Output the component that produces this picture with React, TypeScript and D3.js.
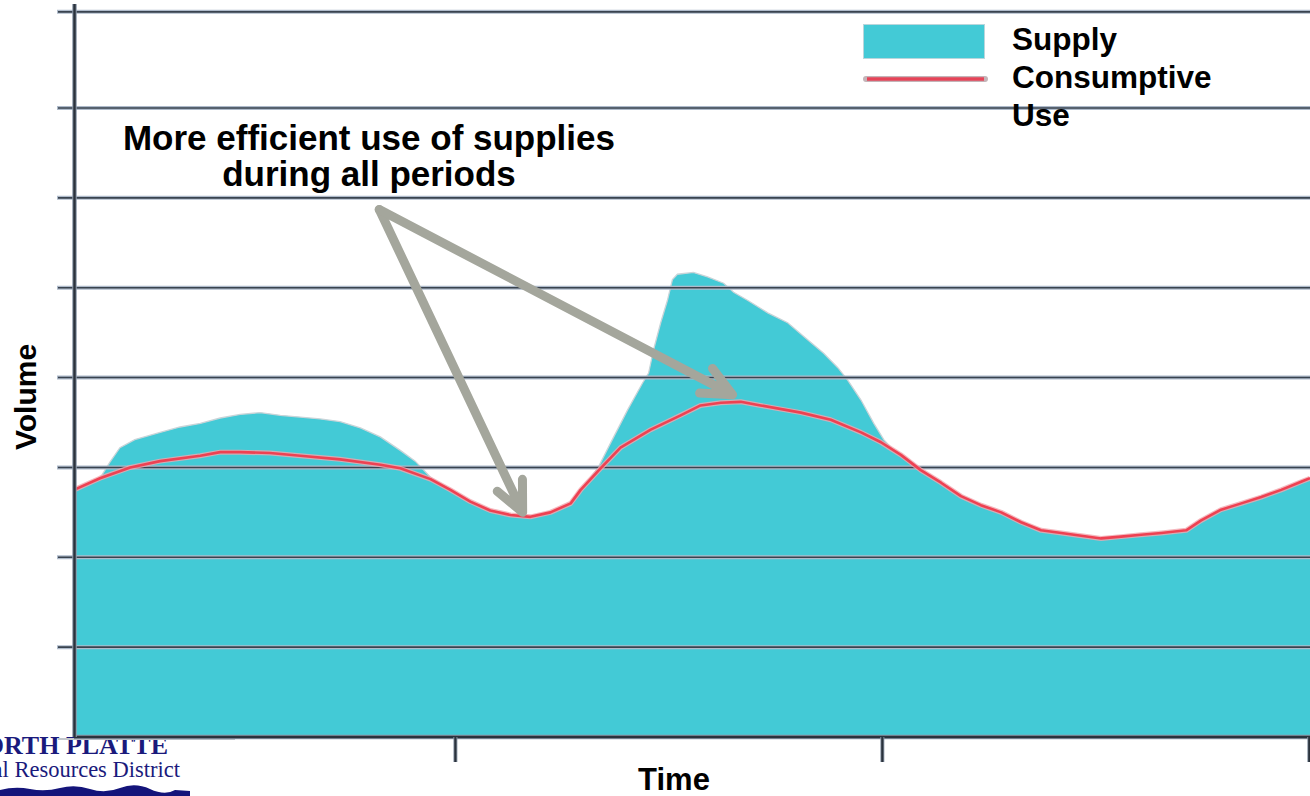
import React, { useEffect } from "react";
import * as d3 from "d3";

// ---- data (time in months, volume in arbitrary units) ----
const supplyMonths = [1.28, 2.01, 2.29, 2.57, 2.99, 3.7, 4.26, 4.83, 5.39, 5.95, 6.51, 7.08, 7.64, 8.2, 8.76, 9.33, 9.89, 10.45, 10.87, 11.3, 11.86, 12.42, 12.98, 13.55, 14.11, 14.67, 15.24, 15.52, 15.66, 16.0, 16.36, 16.84, 17.26, 17.43, 17.57, 17.77, 17.96, 18.1, 18.24, 18.69, 19.09, 19.54, 19.82, 20.21, 20.78, 21.34, 21.9, 22.35, 22.75, 23.03, 23.4, 23.76, 24.04, 24.32, 24.89, 25.08, 25.65, 26.21, 26.77, 27.34, 27.9, 28.46, 29.03, 29.59, 30.15, 30.71, 31.27, 31.84, 32.54, 32.96, 33.52, 34.09, 34.65, 35.21, 35.77, 36.02];
const supplyValues = [2.75, 2.88, 3.06, 3.22, 3.31, 3.39, 3.45, 3.49, 3.55, 3.59, 3.61, 3.58, 3.56, 3.54, 3.51, 3.44, 3.34, 3.19, 3.07, 2.89, 2.75, 2.62, 2.52, 2.47, 2.45, 2.5, 2.6, 2.75, 2.82, 2.99, 3.27, 3.64, 3.94, 4.05, 4.31, 4.61, 4.86, 5.09, 5.15, 5.17, 5.12, 5.05, 4.95, 4.86, 4.72, 4.61, 4.42, 4.27, 4.11, 3.97, 3.75, 3.49, 3.31, 3.19, 3.04, 2.97, 2.83, 2.68, 2.58, 2.5, 2.39, 2.3, 2.27, 2.24, 2.21, 2.23, 2.25, 2.27, 2.3, 2.41, 2.53, 2.6, 2.67, 2.75, 2.84, 2.88];

const useMonths = [1.28, 2.01, 2.86, 3.7, 4.83, 5.39, 5.95, 6.79, 7.64, 8.76, 9.89, 10.45, 11.3, 11.86, 12.42, 12.98, 13.55, 14.11, 14.67, 15.24, 15.52, 16.08, 16.64, 17.49, 18.33, 18.89, 19.46, 20.02, 20.58, 21.71, 22.55, 23.4, 23.96, 24.52, 25.08, 25.65, 26.21, 26.77, 27.34, 27.9, 28.46, 29.03, 29.59, 30.15, 30.71, 31.27, 31.84, 32.54, 32.96, 33.52, 34.09, 34.65, 35.21, 35.77, 36.02];
const useValues = [2.75, 2.88, 3.0, 3.07, 3.13, 3.17, 3.17, 3.16, 3.13, 3.09, 3.03, 2.99, 2.87, 2.75, 2.62, 2.52, 2.47, 2.45, 2.5, 2.6, 2.75, 2.99, 3.22, 3.42, 3.58, 3.69, 3.72, 3.73, 3.69, 3.61, 3.53, 3.39, 3.28, 3.14, 2.97, 2.83, 2.68, 2.58, 2.5, 2.39, 2.3, 2.27, 2.24, 2.21, 2.23, 2.25, 2.27, 2.3, 2.41, 2.53, 2.6, 2.67, 2.75, 2.84, 2.88];

const timeTicks = [12, 24, 36];
const gridValues = [1, 2, 3, 4, 5, 6, 7, 8.07];

const titleLines = ["More efficient use of supplies", "during all periods"];
const legendLabels = ["Supply", "Consumptive", "Use"];
const logoLines = ["NORTH PLATTE", "Natural Resources District"];
// annotation: arrow tail and tips in data units [month, volume]
const arrowTail: [number, number] = [9.86, 5.87];
const arrowTips: [number, number][] = [
  [13.89, 2.5],
  [19.79, 3.81],
];

const W = 1310;
const H = 796;

export default function App() {
  useEffect(() => {
    document.body.style.margin = "0";
  }, []);

  const x = d3.scaleLinear().domain([1.28, 36.02]).range([74, 1310]);
  const y = d3.scaleLinear().domain([0, 7]).range([737, 108]);

  const supply = supplyMonths.map((m, i) => [m, supplyValues[i]] as [number, number]);
  const use = useMonths.map((m, i) => [m, useValues[i]] as [number, number]);

  const area = d3
    .area<[number, number]>()
    .x((d) => x(d[0]))
    .y0(y(0))
    .y1((d) => y(d[1]));
  const topLine = d3
    .line<[number, number]>()
    .x((d) => x(d[0]))
    .y((d) => y(d[1]));

  const fill = "#43CAD6";
  const red = "#EE4152";
  const arrowColor = "#A4A69C";
  const font = "'Liberation Sans', Arial, sans-serif";
  const serif = "'Liberation Serif', 'Times New Roman', serif";

  const tailX = x(arrowTail[0]);
  const tailY = y(arrowTail[1]);

  const arrowPaths = arrowTips.map(([tm, tv]) => {
    const tx = x(tm);
    const ty = y(tv);
    const back = Math.atan2(tailY - ty, tailX - tx);
    const len = 33;
    const a = (25 * Math.PI) / 180;
    const a1x = tx + len * Math.cos(back + a);
    const a1y = ty + len * Math.sin(back + a);
    const a2x = tx + len * Math.cos(back - a);
    const a2y = ty + len * Math.sin(back - a);
    return `M${tailX},${tailY}L${tx},${ty}M${a1x},${a1y}L${tx},${ty}L${a2x},${a2y}`;
  });

  return (
    <svg
      width={W}
      height={H}
      viewBox={`0 0 ${W} ${H}`}
      style={{ display: "block", position: "absolute", left: 0, top: 0, background: "#fff" }}
    >
      {/* logo fragment (cropped at the left edge, as in the reference) */}
      <g>
        <text x={168} y={754} textAnchor="end" fontFamily={serif} fontWeight="bold" fontSize={26} fill="#1A1A7C">
          {logoLines[0]}
        </text>
        <text x={180} y={777} textAnchor="end" fontFamily={serif} fontSize={22.5} fill="#1A1A7C">
          {logoLines[1]}
        </text>
        <path
          d="M0,796L0,790Q15,786 30,789T60,788T90,789T120,788T150,789T175,790L190,791L190,796Z"
          fill="#14147A"
        />
      </g>

      {/* supply area */}
      <path d={area(supply) || ""} fill={fill} />
      <path d={topLine(supply) || ""} fill="none" stroke="#C9D4D8" strokeWidth={1.3} />

      {/* gridlines */}
      {gridValues.map((v) => (
        <g key={v}>
          <line x1={57} x2={W} y1={y(v)} y2={y(v)} stroke="#AEBACA" strokeWidth={4} />
          <line x1={58} x2={W} y1={y(v)} y2={y(v)} stroke="#39434F" strokeWidth={1.6} />
        </g>
      ))}

      {/* consumptive use line */}
      <path d={topLine(use) || ""} fill="none" stroke="#F2A6AE" strokeWidth={5} strokeLinejoin="round" opacity={0.8} />
      <path d={topLine(use) || ""} fill="none" stroke={red} strokeWidth={2.6} strokeLinejoin="round" />

      {/* axes */}
      <line x1={58} x2={235} y1={739} y2={739} stroke="#C3C7CC" strokeWidth={2} />
      <line x1={74} x2={W} y1={y(0)} y2={y(0)} stroke="#8C98A8" strokeWidth={4.5} />
      <line x1={74} x2={W} y1={y(0)} y2={y(0)} stroke="#2A323C" strokeWidth={2.5} />
      {timeTicks.map((t) => (
        <g key={t}>
          <line x1={x(t)} x2={x(t)} y1={y(0)} y2={762} stroke="#8C98A8" strokeWidth={4} />
          <line x1={x(t)} x2={x(t)} y1={y(0)} y2={762} stroke="#2A323C" strokeWidth={2.2} />
        </g>
      ))}
      <line x1={74.5} x2={74.5} y1={4} y2={y(0)} stroke="#8C98A8" strokeWidth={4.5} />
      <line x1={74.5} x2={74.5} y1={4} y2={y(0)} stroke="#2A323C" strokeWidth={2.4} />

      {/* axis titles */}
      <text x={674} y={790} textAnchor="middle" fontFamily={font} fontWeight="bold" fontSize={31} fill="#000">
        Time
      </text>
      <text
        transform="translate(36,397) rotate(-90)"
        textAnchor="middle"
        fontFamily={font}
        fontWeight="bold"
        fontSize={30}
        fill="#000"
      >
        Volume
      </text>

      {/* annotation */}
      {titleLines.map((s, i) => (
        <text
          key={s}
          x={369}
          y={150 + i * 36}
          textAnchor="middle"
          fontFamily={font}
          fontWeight="bold"
          fontSize={35}
          fill="#000"
        >
          {s}
        </text>
      ))}
      {arrowPaths.map((d, i) => (
        <path
          key={i}
          d={d}
          fill="none"
          stroke={arrowColor}
          strokeWidth={9}
          strokeLinecap="round"
          strokeLinejoin="round"
        />
      ))}

      {/* legend */}
      <rect x={863.5} y={24.5} width={121} height={34} fill={fill} stroke="#B9D6DC" strokeWidth={1} />
      <line x1={866} x2={985} y1={79} y2={79} stroke="#C4B4B8" strokeWidth={6} strokeLinecap="round" />
      <line x1={867} x2={984} y1={79} y2={79} stroke="#E64458" strokeWidth={3.5} />
      {legendLabels.map((s, i) => (
        <text key={s} x={1012} y={50 + i * 38} fontFamily={font} fontWeight="bold" fontSize={31.5} fill="#000">
          {s}
        </text>
      ))}
    </svg>
  );
}
